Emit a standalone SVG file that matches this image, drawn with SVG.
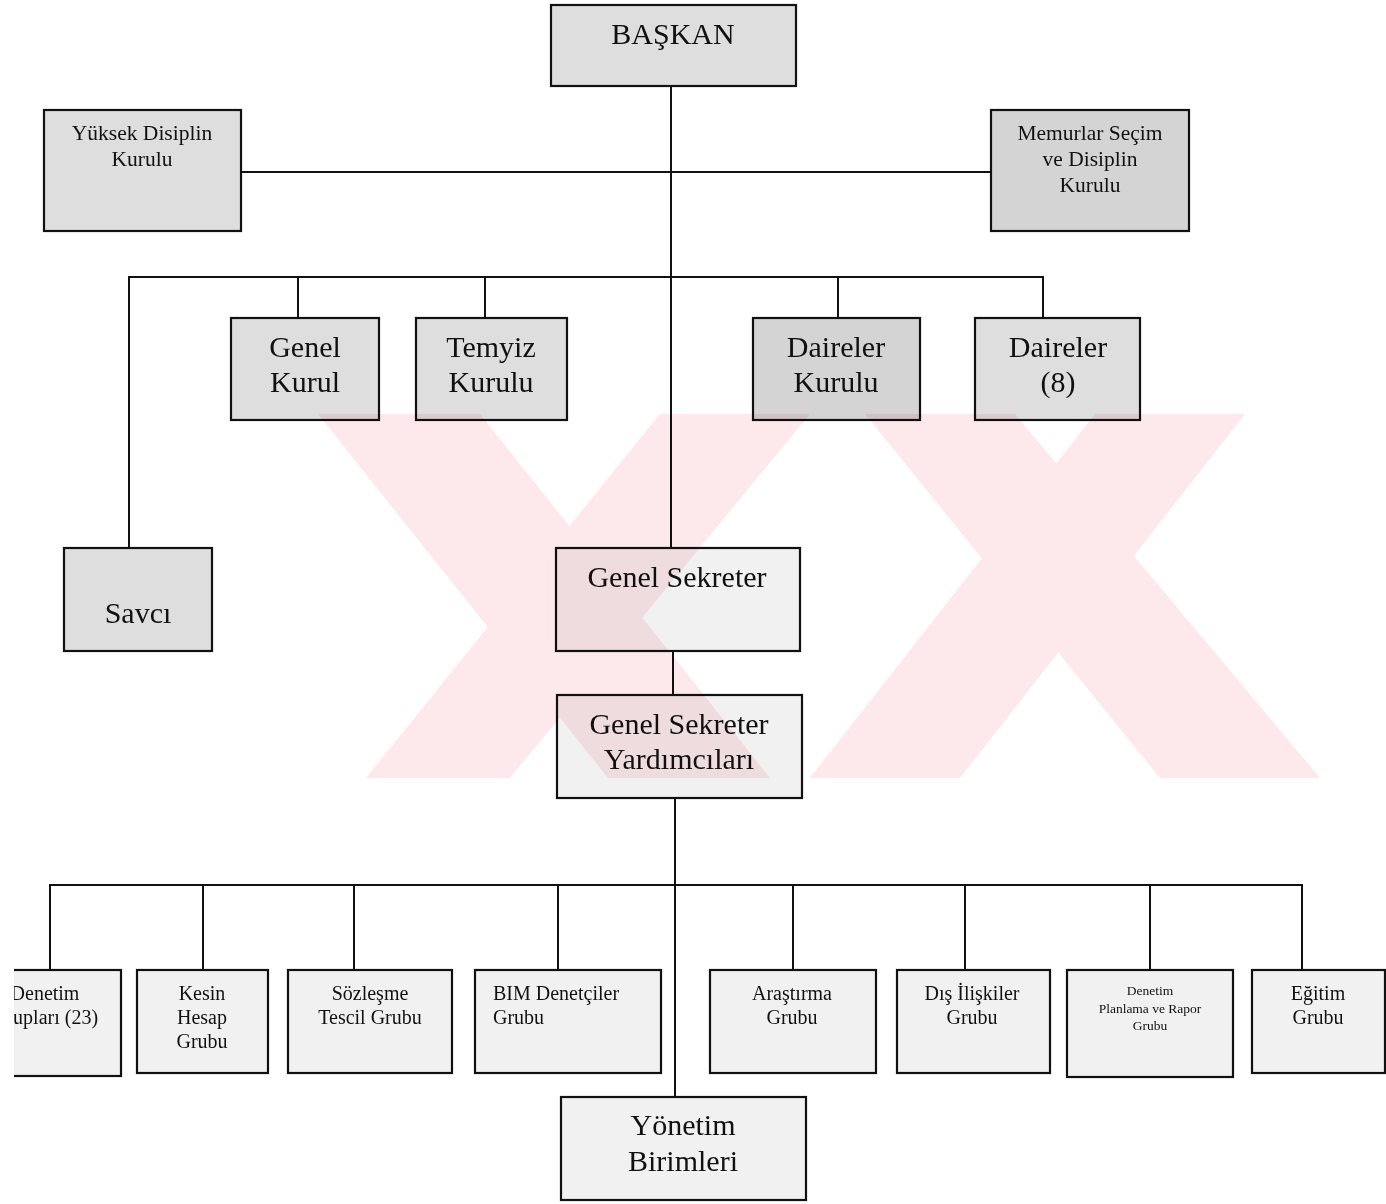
<svg xmlns="http://www.w3.org/2000/svg" width="1386" height="1204" viewBox="0 0 1386 1204">
<defs>
<style>
.box{stroke:#111;stroke-width:2.2}
.g1{fill:#dedede}
.g2{fill:#d4d4d4}
.g3{fill:#f1f1f1}
.t{font-family:"Liberation Serif","Times New Roman",serif;fill:#111;text-anchor:middle}
.s30{font-size:30px}
.s22{font-size:21.5px}
.s20{font-size:20px}
.s14{font-size:13.5px}
.ln{stroke:#111;stroke-width:2;fill:none}
.wm{fill:#fde9ec}
</style>
<clipPath id="clipL"><rect x="14" y="0" width="1372" height="1204"/></clipPath>
</defs>
<rect width="1386" height="1204" fill="#fff"/>

<g id="connectors">
<line class="ln" x1="671" y1="86" x2="671" y2="548"/>
<line class="ln" x1="241" y1="172" x2="991" y2="172"/>
<line class="ln" x1="129" y1="277" x2="1043" y2="277"/>
<line class="ln" x1="129" y1="276" x2="129" y2="548"/>
<line class="ln" x1="298" y1="276" x2="298" y2="318"/>
<line class="ln" x1="485" y1="276" x2="485" y2="318"/>
<line class="ln" x1="838" y1="276" x2="838" y2="318"/>
<line class="ln" x1="1043" y1="276" x2="1043" y2="318"/>
<line class="ln" x1="673" y1="651" x2="673" y2="695"/>
<line class="ln" x1="675" y1="798" x2="675" y2="1097"/>
<line class="ln" x1="50" y1="885" x2="1302" y2="885"/>
<line class="ln" x1="50" y1="884" x2="50" y2="970"/>
<line class="ln" x1="203" y1="884" x2="203" y2="970"/>
<line class="ln" x1="354" y1="884" x2="354" y2="970"/>
<line class="ln" x1="558" y1="884" x2="558" y2="970"/>
<line class="ln" x1="793" y1="884" x2="793" y2="970"/>
<line class="ln" x1="965" y1="884" x2="965" y2="970"/>
<line class="ln" x1="1150" y1="884" x2="1150" y2="970"/>
<line class="ln" x1="1302" y1="884" x2="1302" y2="970"/>
</g>

<g id="baskan"><rect class="box g1" x="551" y="5" width="245" height="81"/><text class="t s30" x="673" y="44">BAŞKAN</text></g>
<g id="yuksek-disiplin"><rect class="box g1" x="44" y="110" width="197" height="121"/><text class="t s22" x="142" y="140">Yüksek Disiplin</text><text class="t s22" x="142" y="166">Kurulu</text></g>
<g id="memurlar"><rect class="box g2" x="991" y="110" width="198" height="121"/><text class="t s22" x="1090" y="140">Memurlar Seçim</text><text class="t s22" x="1090" y="166">ve Disiplin</text><text class="t s22" x="1090" y="192">Kurulu</text></g>
<g id="genel-kurul"><rect class="box g1" x="231" y="318" width="148" height="102"/><text class="t s30" x="305" y="357">Genel</text><text class="t s30" x="305" y="392">Kurul</text></g>
<g id="temyiz"><rect class="box g1" x="416" y="318" width="151" height="102"/><text class="t s30" x="491" y="357">Temyiz</text><text class="t s30" x="491" y="392">Kurulu</text></g>
<g id="daireler-kurulu"><rect class="box g2" x="753" y="318" width="167" height="102"/><text class="t s30" x="836" y="357">Daireler</text><text class="t s30" x="836" y="392">Kurulu</text></g>
<g id="daireler-8"><rect class="box g1" x="975" y="318" width="165" height="102"/><text class="t s30" x="1058" y="357">Daireler</text><text class="t s30" x="1058" y="392">(8)</text></g>
<g id="savci"><rect class="box g1" x="64" y="548" width="148" height="103"/><text class="t s30" x="138" y="623">Savcı</text></g>
<g id="genel-sekreter"><rect class="box g3" x="556" y="548" width="244" height="103"/><text class="t s30" x="677" y="587">Genel Sekreter</text></g>
<g id="gs-yardimcilari"><rect class="box g3" x="557" y="695" width="245" height="103"/><text class="t s30" x="679" y="734">Genel Sekreter</text><text class="t s30" x="679" y="769">Yardımcıları</text></g>

<g id="denetim-gruplari" clip-path="url(#clipL)"><rect class="box g3" x="-30" y="970" width="151" height="106"/><text class="t s20" x="45" y="1000">Denetim</text><text class="t s20" x="45" y="1024">Grupları (23)</text></g>
<g id="kesin-hesap"><rect class="box g3" x="137" y="970" width="131" height="103"/><text class="t s20" x="202" y="1000">Kesin</text><text class="t s20" x="202" y="1024">Hesap</text><text class="t s20" x="202" y="1048">Grubu</text></g>
<g id="sozlesme"><rect class="box g3" x="288" y="970" width="164" height="103"/><text class="t s20" x="370" y="1000">Sözleşme</text><text class="t s20" x="370" y="1024">Tescil Grubu</text></g>
<g id="bim"><rect class="box g3" x="475" y="970" width="186" height="103"/><text class="t s20" x="493" y="1000" style="text-anchor:start">BIM Denetçiler</text><text class="t s20" x="493" y="1024" style="text-anchor:start">Grubu</text></g>
<g id="arastirma"><rect class="box g3" x="710" y="970" width="166" height="103"/><text class="t s20" x="792" y="1000">Araştırma</text><text class="t s20" x="792" y="1024">Grubu</text></g>
<g id="dis-iliskiler"><rect class="box g3" x="897" y="970" width="153" height="103"/><text class="t s20" x="972" y="1000">Dış İlişkiler</text><text class="t s20" x="972" y="1024">Grubu</text></g>
<g id="denetim-planlama"><rect class="box g3" x="1067" y="970" width="166" height="107"/><text class="t s14" x="1150" y="995">Denetim</text><text class="t s14" x="1150" y="1013">Planlama ve Rapor</text><text class="t s14" x="1150" y="1030">Grubu</text></g>
<g id="egitim"><rect class="box g3" x="1252" y="970" width="133" height="103"/><text class="t s20" x="1318" y="1000">Eğitim</text><text class="t s20" x="1318" y="1024">Grubu</text></g>
<g id="yonetim"><rect class="box g3" x="561" y="1097" width="245" height="103"/><text class="t s30" x="683" y="1135">Yönetim</text><text class="t s30" x="683" y="1171">Birimleri</text></g>

<g id="watermark" style="mix-blend-mode:multiply">
<polygon class="wm" points="318,414 480,414 770,778 608,778"/>
<polygon class="wm" points="660,414 810,414 510,778 366,778"/>
<polygon class="wm" points="865,414 1015,414 1320,778 1160,778"/>
<polygon class="wm" points="1095,414 1245,414 960,778 810,778"/>
</g>
</svg>
